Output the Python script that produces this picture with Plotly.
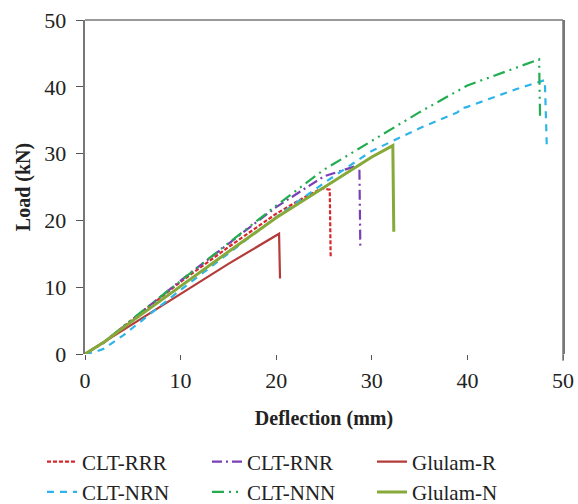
import plotly.graph_objects as go

# Deflection (mm) / Load (kN) for each specimen
rrr_x = [0, 2, 5, 10, 15, 20, 23, 24.8, 25.6, 25.7]
rrr_y = [0, 1.8, 5.2, 10.8, 16.0, 21.0, 23.5, 24.8, 24.6, 14.4]

rnr_x = [0, 2, 5, 10, 15, 20, 25, 28.7, 28.8]
rnr_y = [0, 1.7, 5.2, 11.0, 16.5, 22.0, 26.6, 28.3, 15.8]

glr_x = [0, 5, 10, 15, 20.3, 20.4]
glr_y = [0, 4.5, 9.0, 13.5, 18.0, 11.3]

nrn_x = [0, 1, 2, 4, 10, 15, 20, 25, 30, 35, 39, 39.2, 40, 45, 48.1, 48.3]
nrn_y = [0, 0.3, 0.8, 2.8, 9.6, 15.0, 20.5, 25.6, 30.4, 33.8, 36.2, 36.7, 37.0, 39.6, 41.0, 31.3]

nnn_x = [0, 2, 5, 10, 15, 20, 25, 30, 35, 40, 45, 47.5, 47.6]
nnn_y = [0, 1.8, 5.3, 11.0, 16.6, 22.2, 27.6, 31.9, 36.2, 40.2, 42.8, 44.1, 35.5]

gln_x = [0, 2, 5, 10, 15, 20, 25, 30, 32.2, 32.3]
gln_y = [0, 1.8, 5.0, 10.2, 15.3, 20.4, 25.0, 29.5, 31.2, 18.3]

names = ["CLT-RRR", "CLT-RNR", "Glulam-R", "CLT-NRN", "CLT-NNN", "Glulam-N"]
xs = [rrr_x, rnr_x, glr_x, nrn_x, nnn_x, gln_x]
ys = [rrr_y, rnr_y, glr_y, nrn_y, nnn_y, gln_y]
colors = ["#d9262b", "#7b3fb5", "#b33c3a", "#2eb4ea", "#22ad50", "#86a93a"]
dashes = ["4px,2px", "10px,4px,2px,4px", "solid", "7px,6px", "12px,5px,2px,5px,2px,5px", "solid"]
widths = [2.2, 2.2, 2.2, 2.2, 2.2, 3]

fig = go.Figure()
for n, x, y, c, d, w in zip(names, xs, ys, colors, dashes, widths):
    fig.add_trace(go.Scatter(x=x, y=y, name=n, mode="lines",
                             line=dict(color=c, dash=d, width=w)))

font = "Liberation Serif, Times New Roman, serif"
fig.update_layout(
    width=578, height=504,
    margin=dict(l=85, r=15, t=20, b=150, autoexpand=False),
    paper_bgcolor="white", plot_bgcolor="white",
    font=dict(family=font, size=22, color="#222"),
    showlegend=True,
    legend=dict(orientation="h", xref="paper", yref="paper",
                x=-0.09, xanchor="left", y=-0.262, yanchor="top",
                entrywidth=120, entrywidthmode="pixels", itemwidth=30,
                font=dict(family=font, size=21, color="#222"),
                tracegroupgap=0),
    xaxis=dict(range=[0, 50], dtick=10, showgrid=False, zeroline=False,
               showline=False, ticks="outside", ticklen=5, tickcolor="#555",
               ticklabelstandoff=2,
               title=dict(text="<b>Deflection (mm)</b>", font=dict(size=20), standoff=18)),
    yaxis=dict(range=[0, 50], dtick=10, showgrid=False, zeroline=False,
               showline=True, mirror=True, linecolor="#777", linewidth=1.5,
               ticks="outside", ticklen=7, tickcolor="#555", ticksuffix=" ",
               title=dict(text="<b>Load (kN)</b>", font=dict(size=20), standoff=8)),
)
# plot frame: top and right edges
fig.add_shape(type="line", xref="x domain", yref="y domain", x0=0, x1=1, y0=1, y1=1,
              line=dict(color="#777", width=1.5), layer="above")
fig.add_shape(type="line", xref="x domain", yref="y domain", x0=1, x1=1, y0=-0.02, y1=1,
              line=dict(color="#777", width=1.5), layer="above")
fig.write_html("out.html", config={"displayModeBar": False},
               post_script="document.body.style.margin='0px';document.body.style.overflow='hidden';")
